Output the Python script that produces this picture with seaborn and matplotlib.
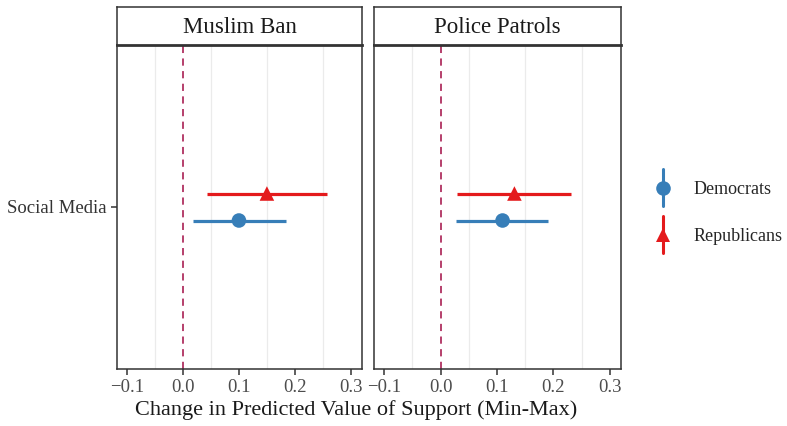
import numpy as np
import pandas as pd
import seaborn as sns
import matplotlib.pyplot as plt
from matplotlib.lines import Line2D
from matplotlib.legend_handler import HandlerBase

# values
panels = ["Muslim Ban", "Police Patrols"]
parties = ["Democrats", "Republicans"]
est_dem = [0.100, 0.110]
lo_dem = [0.018, 0.027]
hi_dem = [0.184, 0.191]
est_rep = [0.150, 0.131]
lo_rep = [0.043, 0.030]
hi_rep = [0.257, 0.232]
category = "Social Media"

rows = []
for i, p in enumerate(panels):
    rows.append(dict(panel=p, party="Democrats", est=est_dem[i], lo=lo_dem[i], hi=hi_dem[i]))
    rows.append(dict(panel=p, party="Republicans", est=est_rep[i], lo=lo_rep[i], hi=hi_rep[i]))
df = pd.DataFrame(rows)
dodge = {"Democrats": -0.05, "Republicans": 0.05}
df["ypos"] = 1 + df["party"].map(dodge)

sns.set_style("white")
plt.rcParams["font.family"] = ["Liberation Serif", "DejaVu Serif"]

pal = {"Democrats": "#377EB8", "Republicans": "#E41A1C"}
marks = {"Democrats": "o", "Republicans": "^"}
edge = "#333333"

fig = plt.figure(figsize=(7.87, 4.26), dpi=100)
lefts = [117 / 787, 374 / 787]
widths = [245 / 787, 247 / 787]
bottom, height = 1 - 369 / 426, (369 - 45) / 426
sbottom, sheight = 1 - 45 / 426, (45 - 7) / 426

for i, p in enumerate(panels):
    ax = fig.add_axes([lefts[i], bottom, widths[i], height])
    sub = df[df["panel"] == p]
    for m in [-0.05, 0.05, 0.15, 0.25]:
        ax.axvline(m, color="#EBEBEB", lw=0.9, zorder=0)
    ax.axvline(0, color="#B03060", lw=1.3, ls=(0, (4, 3)), zorder=1)
    for _, r in sub.iterrows():
        ax.hlines(r["ypos"], r["lo"], r["hi"], color=pal[r["party"]], lw=2.3, zorder=2)
    sns.scatterplot(data=sub, x="est", y="ypos", hue="party", style="party",
                    palette=pal, markers=marks, s=110, edgecolor="none",
                    legend=False, ax=ax, zorder=3)
    ax.set_xlim(-0.118, 0.32)
    ax.set_ylim(0.4, 1.6)
    ax.set_xticks([-0.1, 0.0, 0.1, 0.2, 0.3])
    ax.set_xticklabels(["\u22120.1", "0.0", "0.1", "0.2", "0.3"])
    ax.set_xlabel("")
    ax.set_ylabel("")
    if i == 0:
        ax.set_yticks([1])
        ax.set_yticklabels([category])
        ax.tick_params(axis="y", left=True)
    else:
        ax.set_yticks([])
    ax.tick_params(axis="x", bottom=True)
    ax.tick_params(axis="both", direction="out", length=4.5, width=1.1, color=edge,
                   labelsize=13.5, labelcolor="#4D4D4D", pad=2.5)
    ax.tick_params(axis="y", labelcolor="#333333", pad=3)
    for s in ax.spines.values():
        s.set_color(edge)
        s.set_linewidth(1.1)

    sax = fig.add_axes([lefts[i], sbottom, widths[i], sheight])
    sax.set_xticks([])
    sax.set_yticks([])
    for s in sax.spines.values():
        s.set_color(edge)
        s.set_linewidth(1.1)
    sax.spines["bottom"].set_linewidth(2)
    sax.text(0.5, 0.45, p, ha="center", va="center", fontsize=16.5,
             color="#1A1A1A", transform=sax.transAxes)

fig.text(356 / 787, 1 - 410 / 426, "Change in Predicted Value of Support (Min-Max)",
         ha="center", va="center", fontsize=16, color="#1A1A1A")

handles = []
for party in parties:
    h = Line2D([], [], color=pal[party], marker=marks[party], markersize=10.5,
               lw=2.2, markeredgewidth=0)
    handles.append(h)


class VertHandler(HandlerBase):
    def create_artists(self, legend, orig, xd, yd, w, h, fontsize, trans):
        cx = xd + w / 2
        line = Line2D([cx, cx], [yd - h * 0.95, yd + h * 1.95], color=orig.get_color(),
                      lw=orig.get_linewidth(), transform=trans)
        mk = Line2D([cx], [yd + h / 2], marker=orig.get_marker(), color=orig.get_color(),
                    markersize=orig.get_markersize(), markeredgewidth=0, ls="none",
                    transform=trans)
        return [line, mk]


fig.legend(handles, parties, handler_map={Line2D: VertHandler()},
           loc="center left", bbox_to_anchor=(636 / 787, 1 - 213 / 426),
           frameon=False, fontsize=13, handlelength=1.2, handletextpad=1.1,
           labelspacing=1.65)

fig.savefig("out.png", dpi=100)
